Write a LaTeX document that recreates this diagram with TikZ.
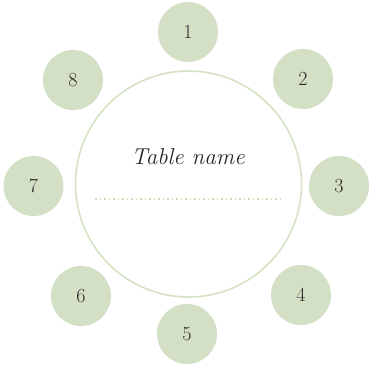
\documentclass[tikz,border=0pt]{standalone}
\usepackage{fontspec}
\definecolor{seatgreen}{HTML}{D3E0C5}
\definecolor{rimgreen}{HTML}{D3E3C3}
\definecolor{dotgreen}{HTML}{C8DCB4}
\definecolor{numgray}{HTML}{2A2A2A}
\begin{document}
\begin{tikzpicture}[x=1pt,y=-1pt,
  seat/.style={circle,fill=seatgreen,minimum size=60pt,inner sep=0pt,text=numgray,font=\fontsize{20}{24}\selectfont},
  tablebox/.style={circle,draw=rimgreen,line width=1.6pt,minimum size=226pt,inner sep=0pt}]
\useasboundingbox (0,0) rectangle (370,365);
\node[tablebox] (table) at (188.5,184) {};
\node[text=black!85] (tname) at (188,157) {\fontsize{23}{28}\selectfont\itshape Table name};
\coordinate (dl) at (95,199);
\coordinate (dr) at (283,199);
\draw[dotgreen,line width=1.8pt,dash pattern=on 1.8pt off 2.7pt] (dl) -- (dr);
\node[seat] (s1) at (188,32) {1};
\node[seat] (s2) at (303,79) {2};
\node[seat] (s3) at (339,186) {3};
\node[seat] (s4) at (301,295) {4};
\node[seat] (s5) at (187,334) {5};
\node[seat] (s6) at (81,296) {6};
\node[seat] (s7) at (33.5,186) {7};
\node[seat] (s8) at (73,80) {8};
\end{tikzpicture}
\end{document}
